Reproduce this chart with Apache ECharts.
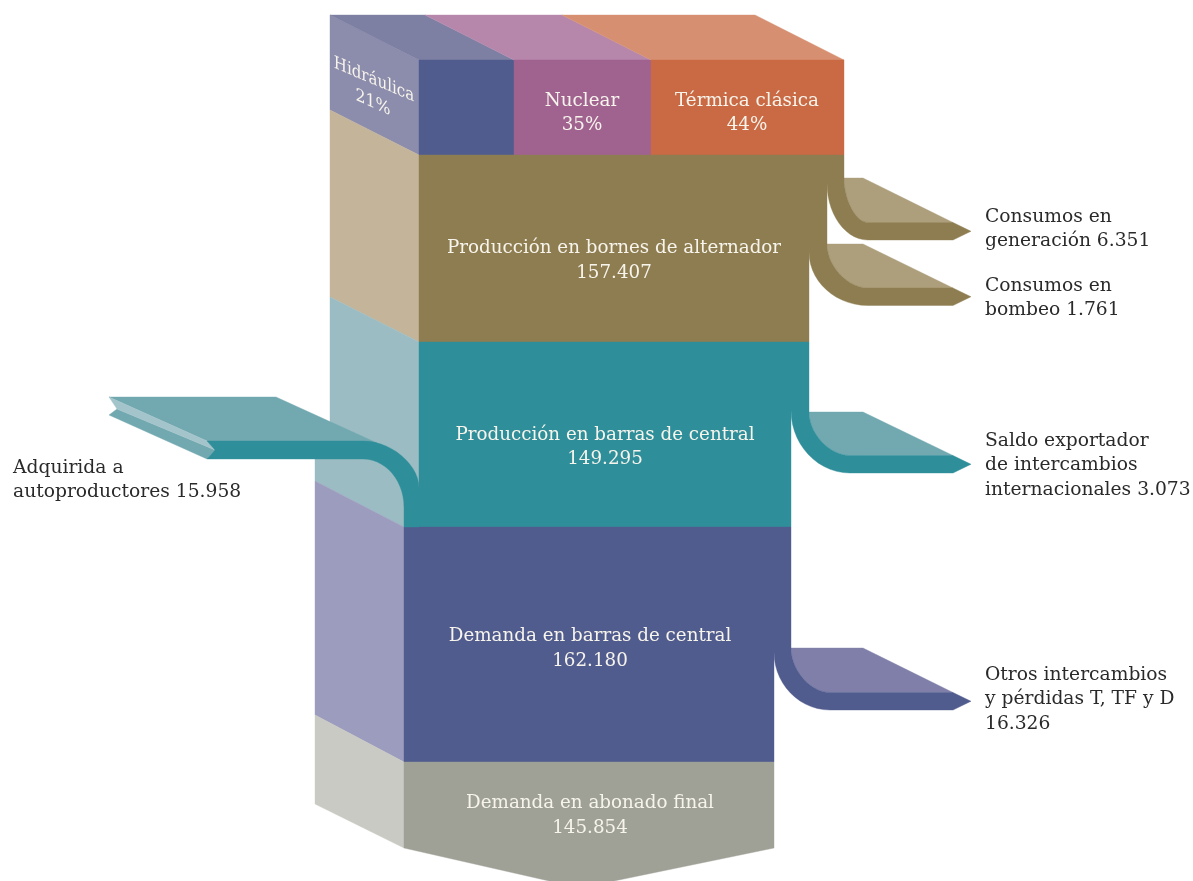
<!DOCTYPE html>
<html><head><meta charset="utf-8">
<style>html,body{margin:0;padding:0;background:#fff}#c{width:1193px;height:881px}</style>
<script src="https://cdn.jsdelivr.net/npm/echarts@6/dist/echarts.min.js"></script>
</head><body><div id="c"></div>
<script>
// ---- data ----
const shareNames = ['Hidráulica', 'Nuclear', 'Térmica clásica'];
const shareValues = [21, 35, 44];
const stageNames = ['Producción en bornes de alternador', 'Producción en barras de central', 'Demanda en barras de central', 'Demanda en abonado final'];
const stageValues = [157.407, 149.295, 162.180, 145.854];
const lossNames = ['Consumos en\ngeneración ', 'Consumos en\nbombeo ', 'Saldo exportador\nde intercambios\ninternacionales ', 'Otros intercambios\ny pérdidas T, TF y D\n'];
const lossValues = [6.351, 1.761, 3.073, 16.326];
const inputName = 'Adquirida a\nautoproductores ';
const inputValue = 15.958;

// ---- layout and style (drawing only) ----
const FONT = '"DejaVu Serif"', FS_IN = 18.3, FS_OUT = 18.7, LH = 24.5;
const LIGHT = '#F7F4EC', DARK = '#2A2A2A';
const sharePx = [95 / 21, 137 / 35, 193 / 44];
const stagePx = [390 / 157.407, 372 / 149.295, 370 / 162.18, 370 / 145.854];
const stageLeft = [419, 419, 404, 404], stageTop = [155, 342, 527, 762], stageBottom = [342, 527, 762, 848];
const stageFill = ['#8E7D51', '#2E8E99', '#515C8E', '#9FA197'];
const shareFill = ['#515C8E', '#A06390', '#C96A45'], shareRoof = ['#7D7FA3', '#B787AB', '#D68F70'];
const stageText = [[614, 261], [605, 447.5], [590, 649], [590, 816]];
const shareText = [[374, 87], [582, 113.5], [747, 113.5]];

function curve(a, b, horizontalFirst, n, kappa) {
  const k = kappa || 0.55, pts = [], N = n || 14;
  const c1 = horizontalFirst ? [a[0] + k * (b[0] - a[0]), a[1]] : [a[0], a[1] + k * (b[1] - a[1])];
  const c2 = horizontalFirst ? [b[0], b[1] - k * (b[1] - a[1])] : [b[0] - k * (b[0] - a[0]), b[1]];
  for (let i = 0; i <= N; i++) {
    const t = i / N, u = 1 - t;
    pts.push([0, 1].map(d => u*u*u*a[d] + 3*u*u*t*c1[d] + 3*u*t*t*c2[d] + t*t*t*b[d]));
  }
  return pts;
}

const marks = [];
const poly = (fill, pts) => marks.push({fill, pts});
const label = (text, x, y, color, align, size, shear) => marks.push({text, x, y, color, align, size, shear});

// side faces
poly('#8C8CAC', [[330,15],[419,60],[419,155],[330,110]]);
poly('#C3B49A', [[330,110],[419,155],[419,342],[330,297]]);
poly('#9ABCC2', [[330,297],[419,342],[419,490],[404,527],[315,481],[315,459],[330,459]]);
poly('#9C9CBE', [[315,481],[404,527],[404,762],[315,715]]);
poly('#C9CAC3', [[315,715],[404,762],[404,848],[315,804]]);

// share blocks with roof
let sx = 419;
shareValues.forEach((v, i) => {
  const w = v * sharePx[i];
  poly(shareRoof[i], [[sx - 89, 15], [sx - 89 + w, 15], [sx + w, 60], [sx, 60]]);
  poly(shareFill[i], [[sx, 60], [sx + w, 60], [sx + w, 155], [sx, 155]]);
  sx += w;
});

// stages
stageValues.forEach((v, i) => {
  const l = stageLeft[i], r = l + v * stagePx[i], t = stageTop[i], b = stageBottom[i];
  if (i === 3) poly(stageFill[i], [[l,t],[r,t],[r,b],[580,888],[l,b]]);
  else poly(stageFill[i], [[l,t],[r,t],[r,b],[l,b]]);
});

// output branches
[
  {xL:827, xR:844, top:155, lt:178, os:183, bot:240, xe:868, c:'#8E7D51', f:'#AD9E7C'},
  {xL:809, xR:827, top:155, lt:244, os:252, bot:305.5, xe:868, c:'#8E7D51', f:'#AD9E7C'},
  {xL:791, xR:809, top:342, lt:412, os:410, bot:473, xe:850, c:'#2E8E99', f:'#72A8B0'},
  {xL:774, xR:791, top:527, lt:648, os:652, bot:710, xe:830, c:'#515C8E', f:'#7F7FA9'}
].forEach(s => {
  const inner = s.bot - 17.5;
  const ic = curve([s.xR, s.lt], [s.xe, inner], false, 14, 0.5), oc = curve([s.xL, s.os], [s.xe, s.bot]);
  poly(s.f, [[s.xR, s.lt], [863, s.lt], [953, inner]].concat(ic.slice().reverse()));
  poly(s.c, [[s.xL, s.top], [s.xR, s.top]].concat(ic, [[953, inner], [971, inner + 8.75], [953, s.bot]], oc.slice().reverse()));
});

// input branch
poly('#72A8B0', [[109,397],[276,397],[377,443],[207,441]]);
poly('#72A8B0', [[117,409],[109,415],[207,459],[215,450]]);
poly('#A3C4CA', [[109,397],[207,441],[215,450],[117,409]]);
poly('#2E8E99', [[207,441]].concat(
  curve([363,441],[419,488],true,14,0.5),
  [[419,527],[404,527]],
  curve([363,459],[404,507],true).reverse(),
  [[207,459],[215,450]]
));

// texts
label(shareNames[0], 374, 80, LIGHT, 'center', 17.5, 0.86);
label(shareValues[0] + '%', 373, 103, LIGHT, 'center', 17.5, 0.9);
shareNames.forEach((n, i) => {
  if (i === 0) return;
  const t = shareText[i];
  label(n + '\n' + shareValues[i] + '%', t[0], t[1], LIGHT, 'center', FS_IN);
});
stageNames.forEach((n, i) => {
  const t = stageText[i];
  label(n + '\n' + stageValues[i].toFixed(3), t[0], t[1], LIGHT, 'center', FS_IN);
});
const lossPos = [[985,229],[985,298],[985,465.5],[985,699.5]];
lossNames.forEach((n, i) => label(n + lossValues[i].toFixed(3), lossPos[i][0], lossPos[i][1], DARK, 'left', FS_OUT));
label(inputName + inputValue.toFixed(3), 13, 480, DARK, 'left', FS_OUT);

const chart = echarts.init(document.getElementById('c'), null, {renderer: 'canvas'});
chart.setOption({
  backgroundColor: '#fff',
  animation: false,
  grid: {left: 0, right: 0, top: 0, bottom: 0},
  xAxis: {type: 'value', min: 0, max: 1193, show: false},
  yAxis: {type: 'value', min: 0, max: 881, inverse: true, show: false},
  series: [{
    type: 'custom',
    coordinateSystem: 'cartesian2d',
    clip: false,
    silent: true,
    data: marks.map((m, i) => [i]),
    encode: {x: 0},
    renderItem(params, api) {
      const m = marks[params.dataIndex];
      if (m.pts) {
        return {type: 'polygon', shape: {points: m.pts.map(p => api.coord(p))},
                style: {fill: m.fill, stroke: m.fill, lineWidth: 0.4}};
      }
      const c = api.coord([m.x, m.y]);
      const el = {type: 'text', x: c[0], y: c[1],
        style: {text: m.text, x: 0, y: 0, fill: m.color, align: m.align, verticalAlign: 'middle',
                font: m.size + 'px ' + FONT, lineHeight: LH}};
      if (m.shear) { el.scaleX = m.shear; el.skewY = -Math.atan(0.49 * m.shear); }
      return el;
    }
  }]
});
</script></body></html>
